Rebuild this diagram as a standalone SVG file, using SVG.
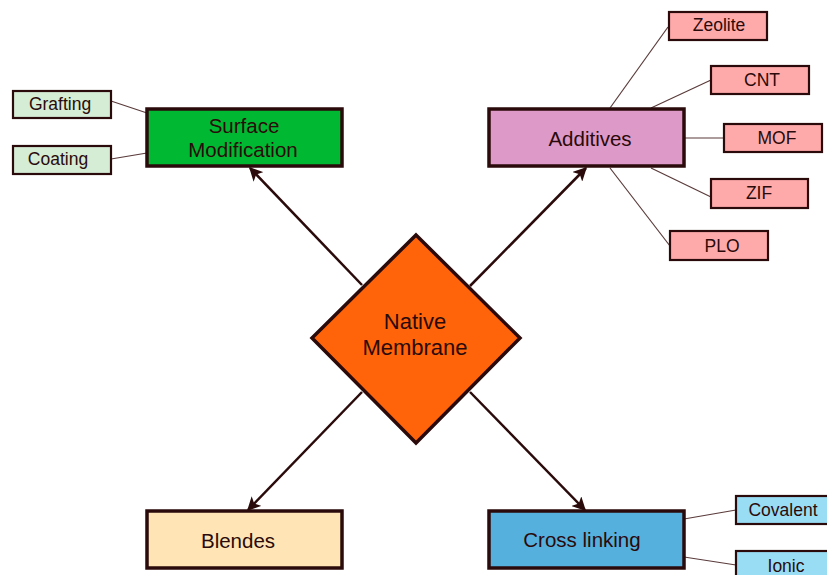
<svg xmlns="http://www.w3.org/2000/svg" width="827" height="575" viewBox="0 0 827 575">
<defs>
<marker id="ah" viewBox="0 0 10 10" refX="9" refY="5" markerWidth="5.5" markerHeight="5.5" orient="auto" markerUnits="strokeWidth">
<path d="M0,0 L10,5 L0,10 L2.5,5 z" fill="#2a0a0a"/>
</marker>
<style>
text{font-family:"Liberation Sans",Arial,sans-serif;fill:#2a0a0a;text-anchor:middle;dominant-baseline:central}
.main{stroke:#2a0a0a;stroke-width:3.5}
.sub{stroke:#2a0a0a;stroke-width:2.2}
.big{font-size:20.5px}
.nat{font-size:22px}
.small{font-size:17.5px}
.arrow{stroke:#2a0a0a;stroke-width:2.5;fill:none;marker-end:url(#ah)}
.link{stroke:#5a3a3a;stroke-width:1.2;fill:none}
</style>
</defs>
<rect width="827" height="575" fill="#ffffff"/>
<g id="connectors">
<line class="arrow" x1="362" y1="285" x2="250" y2="168"/>
<line class="arrow" x1="470" y1="286" x2="586" y2="168"/>
<line class="arrow" x1="362" y1="392" x2="248" y2="510"/>
<line class="arrow" x1="470" y1="392" x2="585" y2="510"/>
<line class="link" x1="111" y1="101" x2="147" y2="113"/>
<line class="link" x1="111" y1="159" x2="147" y2="153"/>
<line class="link" x1="610" y1="108" x2="668" y2="27"/>
<line class="link" x1="651" y1="108" x2="711" y2="80"/>
<line class="link" x1="684" y1="138" x2="724" y2="138"/>
<line class="link" x1="651" y1="168" x2="711" y2="197"/>
<line class="link" x1="610" y1="168" x2="670" y2="246"/>
<line class="link" x1="684" y1="519" x2="736" y2="510"/>
<line class="link" x1="684" y1="557" x2="736" y2="565"/>
</g>
<g id="native">
<polygon class="main" points="416,235 520,338 416,443 312,338" fill="#ff640a"/>
<text class="nat" x="415" y="321">Native</text>
<text class="nat" x="415" y="347">Membrane</text>
</g>
<g id="surface">
<rect class="main" x="147" y="109" width="195" height="57" fill="#00b832"/>
<text class="big" x="244" y="125">Surface</text>
<text class="big" x="243" y="149">Modification</text>
</g>
<g id="grafting">
<rect class="sub" x="13" y="91" width="98" height="27" fill="#d5ecd5"/>
<text class="small" x="60" y="104">Grafting</text>
</g>
<g id="coating">
<rect class="sub" x="13" y="146" width="98" height="28" fill="#d5ecd5"/>
<text class="small" x="58" y="159">Coating</text>
</g>
<g id="additives">
<rect class="main" x="489" y="109" width="195" height="57" fill="#dd99c8"/>
<text class="big" x="590" y="138">Additives</text>
</g>
<g id="zeolite">
<rect class="sub" x="669" y="12" width="98" height="28" fill="#ffaaaa"/>
<text class="small" x="719" y="25">Zeolite</text>
</g>
<g id="cnt">
<rect class="sub" x="711" y="66" width="98" height="28" fill="#ffaaaa"/>
<text class="small" x="762" y="80">CNT</text>
</g>
<g id="mof">
<rect class="sub" x="724" y="124" width="98" height="28" fill="#ffaaaa"/>
<text class="small" x="777" y="138">MOF</text>
</g>
<g id="zif">
<rect class="sub" x="711" y="179" width="97" height="29" fill="#ffaaaa"/>
<text class="small" x="759" y="193">ZIF</text>
</g>
<g id="plo">
<rect class="sub" x="670" y="231" width="98" height="29" fill="#ffaaaa"/>
<text class="small" x="722" y="246">PLO</text>
</g>
<g id="blendes">
<rect class="main" x="147" y="511" width="195" height="57" fill="#ffe5b5"/>
<text class="big" x="238" y="540">Blendes</text>
</g>
<g id="crosslinking">
<rect class="main" x="489" y="511" width="195" height="57" fill="#55b0dd"/>
<text class="big" x="582" y="539">Cross linking</text>
</g>
<g id="covalent">
<rect class="sub" x="736" y="496" width="98" height="28" fill="#99ddf5"/>
<text class="small" x="783" y="510">Covalent</text>
</g>
<g id="ionic">
<rect class="sub" x="736" y="551" width="98" height="30" fill="#99ddf5"/>
<text class="small" x="786" y="566">Ionic</text>
</g>
</svg>
